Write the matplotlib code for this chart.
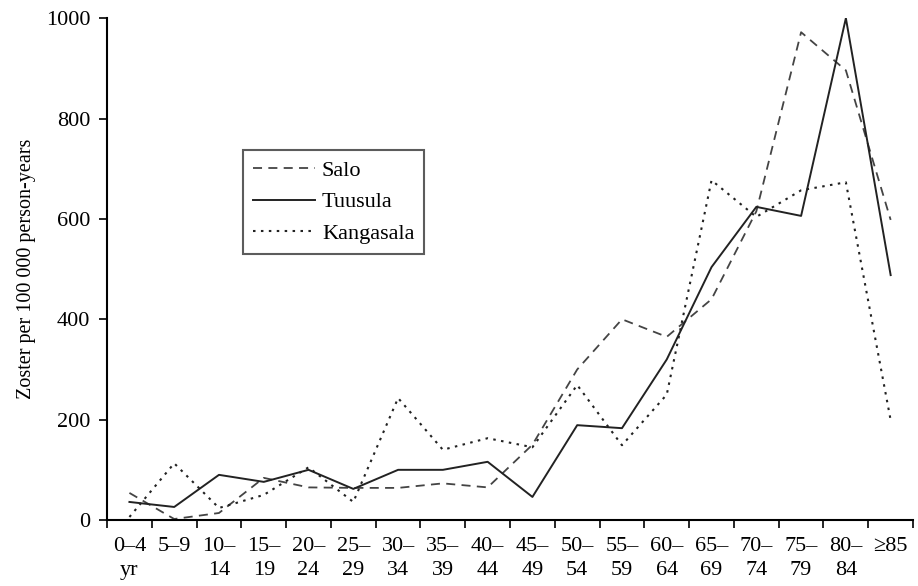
import matplotlib.pyplot as plt
import numpy as np

plt.rcParams['font.family'] = ['Liberation Serif', 'DejaVu Serif']

AGE_LABELS = ['0–4\nyr', '5–9', '10–\n14', '15–\n19', '20–\n24', '25–\n29',
              '30–\n34', '35–\n39', '40–\n44', '45–\n49', '50–\n54', '55–\n59',
              '60–\n64', '65–\n69', '70–\n74', '75–\n79', '80–\n84', '≥85']

SALO = [54, 2, 14, 84, 65, 64, 64, 73, 65, 150, 300, 400, 365, 440, 615, 972, 896, 598]
TUUSULA = [36, 26, 90, 76, 100, 62, 100, 100, 116, 46, 189, 183, 320, 504, 624, 606, 1000, 488]
KANGASALA = [6, 113, 24, 50, 105, 36, 243, 140, 163, 145, 269, 149, 250, 677, 604, 657, 673, 199]


def main() -> None:
    fig = plt.figure(figsize=(9.18, 5.86), dpi=100)
    ax = fig.add_axes([0.1166, 0.1126, 0.878, 0.8564])
    x = np.arange(len(AGE_LABELS)) + 0.5

    ax.plot(x, SALO, linestyle=(0, (5, 3.5)), color='#444444', lw=1.3, label='Salo')
    ax.plot(x, TUUSULA, linestyle='-', color='#222222', lw=1.4, label='Tuusula')
    ax.plot(x, KANGASALA, linestyle=(0, (1.2, 2.6)), color='#222222', lw=1.5,
            label='Kangasala')

    ax.set_xlim(0, len(AGE_LABELS))
    ax.set_ylim(0, 1000)
    ax.set_yticks([0, 200, 400, 600, 800, 1000])
    ax.set_xticks(np.arange(len(AGE_LABELS) + 1))
    ax.set_xticklabels([])
    ax.set_xticks(x, minor=True)
    ax.set_xticklabels(AGE_LABELS, minor=True, fontsize=16, linespacing=1.35,
                       va='top')
    ax.tick_params(axis='x', which='minor', length=0, pad=12)
    ax.tick_params(axis='x', which='major', length=6, width=1.2)
    ax.tick_params(axis='y', length=6, width=1.2, labelsize=16, pad=6)
    for side in ('top', 'right'):
        ax.spines[side].set_visible(False)
    for side in ('left', 'bottom'):
        ax.spines[side].set_linewidth(1.5)
    ax.set_ylabel('Zoster per 100 000 person-years', fontsize=14.5, labelpad=7)

    leg = ax.legend(loc='upper left', bbox_to_anchor=(0.1687, 0.737),
                    fontsize=16, frameon=True, fancybox=False,
                    edgecolor='#333333', handlelength=2.8, handletextpad=0.3,
                    borderpad=0.45, labelspacing=0.5, borderaxespad=0)
    leg.get_frame().set_linewidth(1.5)

    fig.savefig('out.png', dpi=100)


if __name__ == '__main__':
    main()
